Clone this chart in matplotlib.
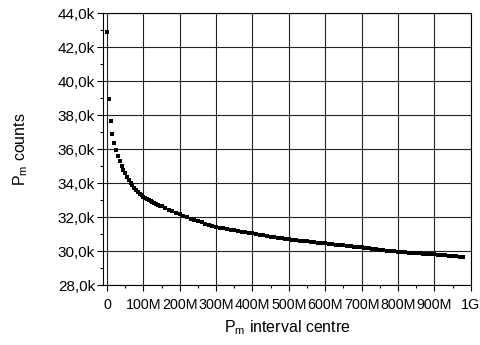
import matplotlib
matplotlib.use('Agg')
import matplotlib.pyplot as plt
import numpy as np
from matplotlib.ticker import FixedLocator, FixedFormatter, MultipleLocator

plt.rcParams['font.family'] = ['Liberation Sans', 'DejaVu Sans']
plt.rcParams['mathtext.fontset'] = 'custom'
plt.rcParams['mathtext.rm'] = 'Liberation Sans'

# Intervalo (M) e contagens (k)
centro_M = [0, 5, 10, 15, 20, 25, 30, 35, 40, 45, 50,
            55, 60, 65, 70, 75, 80, 85, 90, 95, 100,
            105, 110, 115, 120, 125, 130, 135, 140, 145, 150,
            160, 170, 180, 190, 200, 210, 220, 230, 240, 250,
            260, 270, 280, 290, 300, 310, 320, 330, 340, 350,
            360, 370, 380, 390, 400, 410, 420, 430, 440, 450,
            460, 470, 480, 490, 500, 510, 520, 530, 540, 550,
            560, 570, 580, 590, 600, 610, 620, 630, 640, 650,
            660, 670, 680, 690, 700, 710, 720, 730, 740, 750,
            760, 770, 780, 790, 800, 810, 820, 830, 840, 850,
            860, 870, 880, 890, 900, 910, 920, 930, 940, 950,
            960, 970, 980]
contagens_k = [42.92, 38.94, 37.68, 36.92, 36.39, 35.95, 35.59, 35.30, 35.04, 34.80, 34.58,
               34.38, 34.20, 34.04, 33.88, 33.75, 33.62, 33.51, 33.40, 33.30, 33.21,
               33.14, 33.07, 33.01, 32.95, 32.89, 32.84, 32.79, 32.74, 32.69, 32.65,
               32.56, 32.45, 32.36, 32.27, 32.17, 32.09, 32.01, 31.93, 31.86, 31.78,
               31.72, 31.63, 31.57, 31.51, 31.45, 31.40, 31.35, 31.30, 31.27, 31.23,
               31.20, 31.16, 31.12, 31.08, 31.05, 31.02, 30.98, 30.94, 30.91, 30.87,
               30.84, 30.81, 30.77, 30.74, 30.71, 30.68, 30.66, 30.63, 30.61, 30.59,
               30.56, 30.54, 30.51, 30.49, 30.47, 30.44, 30.42, 30.40, 30.38, 30.35,
               30.33, 30.30, 30.28, 30.25, 30.23, 30.20, 30.18, 30.15, 30.12, 30.10,
               30.07, 30.04, 30.02, 30.00, 29.97, 29.96, 29.94, 29.93, 29.91, 29.90,
               29.89, 29.87, 29.86, 29.84, 29.82, 29.80, 29.78, 29.76, 29.74, 29.72,
               29.70, 29.68, 29.66]

xticks = [0, 100, 200, 300, 400, 500, 600, 700, 800, 900, 1000]
xtick_labels = ['0', '100M', '200M', '300M', '400M', '500M', '600M', '700M', '800M', '900M', '1G']
yticks = [28, 30, 32, 34, 36, 38, 40, 42, 44]
ytick_labels = ['28,0k', '30,0k', '32,0k', '34,0k', '36,0k', '38,0k', '40,0k', '42,0k', '44,0k']

fig = plt.figure(figsize=(4.8, 3.45), dpi=100)
ax = fig.add_axes([0.2153, 0.173, 0.7653, 0.7884])

ax.plot(centro_M, contagens_k, 's', color='black', markersize=3.4, markeredgewidth=0)

ax.set_xlim(-10, 1000)
ax.set_ylim(28, 44)

ax.xaxis.set_major_locator(FixedLocator(xticks))
ax.xaxis.set_major_formatter(FixedFormatter(xtick_labels))
ax.yaxis.set_major_locator(FixedLocator(yticks))
ax.yaxis.set_major_formatter(FixedFormatter(ytick_labels))
ax.xaxis.set_minor_locator(MultipleLocator(50))
ax.yaxis.set_minor_locator(MultipleLocator(1))

ax.tick_params(axis='x', which='major', labelsize=10.3, length=4, width=0.8, pad=5)
ax.tick_params(axis='y', which='major', labelsize=11, length=4, width=0.8, pad=2)
ax.tick_params(which='minor', length=2, width=0.8)

ax.grid(True, which='major', color='#222222', linewidth=0.8)
ax.set_axisbelow(True)
for s in ax.spines.values():
    s.set_linewidth(0.8)

ax.set_xlabel(r'P$_\mathrm{m}$ interval centre', fontsize=11.5, labelpad=5)
ax.set_ylabel(r'P$_\mathrm{m}$ counts', fontsize=11.5, labelpad=20)

fig.savefig('out.png', dpi=100)
